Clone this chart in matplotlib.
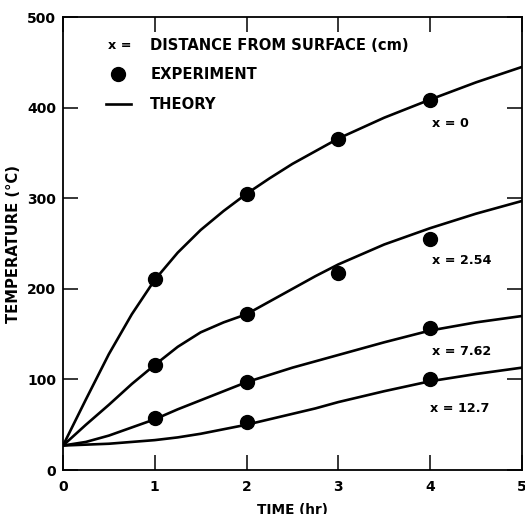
import matplotlib
matplotlib.use("Agg")
import matplotlib.pyplot as plt

plt.rcParams['font.family'] = ['DejaVu Sans']
plt.rcParams['font.weight'] = 'bold'

# Theory curves
t_theory = [0, 0.25, 0.5, 0.75, 1, 1.25, 1.5, 1.75, 2, 2.25, 2.5, 2.75, 3, 3.5, 4, 4.5, 5]
theory_x0 = [27, 78, 128, 172, 210, 240, 265, 286, 305, 322, 338, 352, 366, 389, 409, 428, 445]
theory_x254 = [27, 50, 72, 95, 116, 136, 152, 163, 172, 186, 200, 214, 227, 249, 267, 283, 297]
theory_x762 = [27, 31, 38, 47, 56, 67, 77, 87, 97, 105, 113, 120, 127, 141, 154, 163, 170]
theory_x127 = [27, 28, 29, 31, 33, 36, 40, 45, 50, 56, 62, 68, 75, 87, 98, 106, 113]

# Experiment points
t_exp = [1, 2, 3, 4]
exp_x0 = [211, 305, 366, 409]
t_exp254 = [1, 2, 3, 4]
exp_x254 = [116, 172, 217, 255]
t_exp762 = [1, 2, 4]
exp_x762 = [57, 97, 157]
t_exp127 = [2, 4]
exp_x127 = [53, 101]

curve_labels = ["x = 0", "x = 2.54", "x = 7.62", "x = 12.7"]
label_pos_t = [4.02, 4.02, 4.02, 4.0]
label_pos_v = [383, 231, 131, 68]

fig = plt.figure(figsize=(5.25, 5.14), dpi=100)
ax = fig.add_axes([0.12, 0.0856, 0.874, 0.881])

lw = 1.9
for vals in (theory_x0, theory_x254, theory_x762, theory_x127):
    ax.plot(t_theory, vals, color='black', lw=lw, solid_capstyle='round',
            solid_joinstyle='round')

ms = 10
for tt, vv in ((t_exp, exp_x0), (t_exp254, exp_x254), (t_exp762, exp_x762), (t_exp127, exp_x127)):
    ax.plot(tt, vv, 'o', color='black', ms=ms, zorder=3)

fs = 9.2
for lab, tx, vy in zip(curve_labels, label_pos_t, label_pos_v):
    ax.text(tx, vy, lab, fontsize=fs, fontweight='bold', ha='left', va='center')

ax.set_xlim(0, 5)
ax.set_ylim(0, 500)
ax.set_xticks([0, 1, 2, 3, 4, 5])
ax.set_yticks([0, 100, 200, 300, 400, 500])
ax.tick_params(direction='in', length=11, width=1.1, top=True, right=True,
               labelsize=10)
ax.tick_params(axis='x', pad=7)
ax.tick_params(axis='y', pad=5)
for lab in ax.get_xticklabels() + ax.get_yticklabels():
    lab.set_fontweight('bold')
for sp in ax.spines.values():
    sp.set_linewidth(1.3)

fl = 10.6
ax.set_ylabel("TEMPERATURE (°C)", fontsize=fl, fontweight='bold', labelpad=4)
ax.set_xlabel("TIME (hr)", fontsize=9.8, fontweight='bold', labelpad=7)

# Legend drawn as text
ax.text(0.49, 469, "x =", fontsize=fs, fontweight='bold', ha='left', va='center')
ax.text(0.95, 469, "DISTANCE FROM SURFACE (cm)", fontsize=fl, fontweight='bold', ha='left', va='center')
ax.plot([0.6], [437], 'o', color='black', ms=ms)
ax.text(0.95, 437, "EXPERIMENT", fontsize=fl, fontweight='bold', ha='left', va='center')
ax.plot([0.47, 0.74], [404, 404], color='black', lw=lw)
ax.text(0.95, 404, "THEORY", fontsize=fl, fontweight='bold', ha='left', va='center')

fig.savefig("out.png", dpi=100)
